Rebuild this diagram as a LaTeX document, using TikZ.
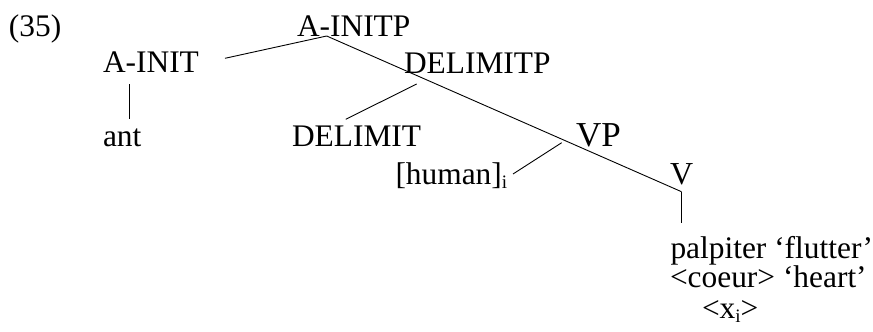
\documentclass[tikz,border=0pt]{standalone}
\usepackage{fontspec}
\setmainfont{Liberation Serif}
\newcommand\mysub[1]{\raisebox{-0.28ex}{\fontsize{19}{19}\selectfont #1}}
\begin{document}
\begin{tikzpicture}[x=1pt,y=-1pt,
  lbl/.style={anchor=base west,inner sep=0pt,outer sep=0pt,font=\fontsize{31.4}{36}\selectfont},
  biglbl/.style={lbl,font=\fontsize{35}{40}\selectfont},
  edge/.style={line width=0.9pt,black}]
\useasboundingbox (0,0) rectangle (873,332);
% labels
\node[lbl] (num) at (9,36) {(35)};
\node[lbl] (ainitp) at (297,36) {A-INITP};
\node[lbl] (ainit) at (103,72.7) {A-INIT};
\node[lbl] (delimitp) at (404,73.3) {DELIMITP};
\node[lbl] (ant) at (103,146) {ant};
\node[lbl] (delimit) at (292,146) {DELIMIT};
\node[biglbl] (vp) at (576,146) {VP};
\node[lbl] (human) at (395.5,184) {[human]\mysub{i}};
\node[lbl,font=\fontsize{32}{36}\selectfont] (v) at (670,184) {V};
\node[lbl] (palp) at (670.5,258) {palpiter ‘flutter’};
\node[lbl] (coeur) at (670,287) {<coeur> ‘heart’};
\node[lbl] (xi) at (702,318) {<x\mysub{i}>};
% connector end points
\coordinate (ainitp-b) at (326.7,36);
\coordinate (ainit-r) at (225,58.3);
\coordinate (ainit-b) at (129,84);
\coordinate (ant-t) at (129,119.3);
\coordinate (delimitp-b) at (416.7,84);
\coordinate (delimit-t) at (345.7,119.3);
\coordinate (vp-b) at (561.7,142.7);
\coordinate (human-r) at (513,174);
\coordinate (v-b) at (681.5,191.7);
\coordinate (palp-t) at (681.5,222.7);
% connectors
\draw[edge] (ainitp-b) -- (ainit-r);
\draw[edge] (ainitp-b) -- (v-b);
\draw[edge] (ainit-b) -- (ant-t);
\draw[edge] (delimitp-b) -- (delimit-t);
\draw[edge] (vp-b) -- (human-r);
\draw[edge] (v-b) -- (palp-t);
\end{tikzpicture}
\end{document}
